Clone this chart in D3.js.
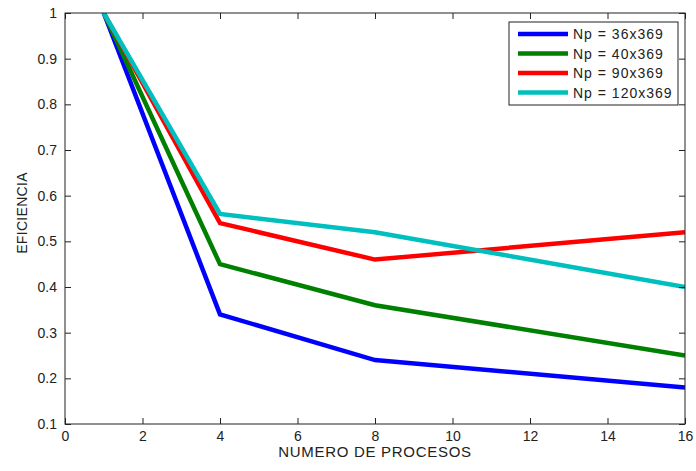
<!DOCTYPE html>
<html>
<head>
<meta charset="utf-8">
<script src="https://cdnjs.cloudflare.com/ajax/libs/d3/7.8.5/d3.min.js"></script>
<style>
  body { margin: 0; background: #fff; }
  svg { display: block; font-family: "Liberation Sans", Arial, sans-serif; }
</style>
</head>
<body>
<script>
// processes and efficiency per problem size
let procesos = [1, 4, 8, 16];
let np36 = [1, 0.34, 0.24, 0.18];
let np40 = [1, 0.45, 0.36, 0.25];
let np90 = [1, 0.54, 0.46, 0.52];
let np120 = [1, 0.56, 0.52, 0.40];
let labels = ['Np = 36x369', 'Np = 40x369', 'Np = 90x369', 'Np = 120x369'];
let colors = ['#0000ff', '#008000', '#ff0000', '#00bfbf'];
let xTicks = [0, 2, 4, 6, 8, 10, 12, 14, 16];
let yTicks = [0.1, 0.2, 0.3, 0.4, 0.5, 0.6, 0.7, 0.8, 0.9, 1];

let width = 696, height = 471;
let margin = { top: 13, right: 11, bottom: 47, left: 65 };

let svg = d3.select('body').append('svg')
    .attr('width', width)
    .attr('height', height);

let xScale = d3.scaleLinear().domain([0, 16]).range([margin.left, width - margin.right]);
let yScale = d3.scaleLinear().domain([0.1, 1]).range([height - margin.bottom, margin.top]);

let series = [np36, np40, np90, np120].map((vals, i) => ({
    label: labels[i],
    color: colors[i],
    points: procesos.map((p, j) => ({ x: p, y: vals[j] }))
}));

svg.append('clipPath').attr('id', 'plot-clip')
    .append('rect')
    .attr('x', margin.left)
    .attr('y', margin.top)
    .attr('width', width - margin.left - margin.right)
    .attr('height', height - margin.top - margin.bottom);

// lines
let line = d3.line().x(d => xScale(d.x)).y(d => yScale(d.y));
svg.append('g')
    .attr('clip-path', 'url(#plot-clip)')
    .selectAll('path')
    .data(series)
    .enter()
    .append('path')
    .attr('d', d => line(d.points))
    .attr('fill', 'none')
    .attr('stroke', d => d.color)
    .attr('stroke-width', 4.5)
    .attr('stroke-linejoin', 'miter');

// axes with inward ticks on all four sides
let tickLen = 6;
let styleAxis = g => {
    g.select('.domain').remove();
    g.selectAll('line').attr('stroke', '#222');
    g.selectAll('text').attr('fill', '#222').attr('font-size', 14);
};
svg.append('g')
    .attr('transform', `translate(0, ${height - margin.bottom})`)
    .call(d3.axisBottom(xScale).tickValues(xTicks).tickFormat(d3.format('d')).tickSizeInner(-tickLen).tickSizeOuter(0).tickPadding(7))
    .call(styleAxis);
svg.append('g')
    .attr('transform', `translate(0, ${margin.top})`)
    .call(d3.axisTop(xScale).tickValues(xTicks).tickFormat('').tickSizeInner(-tickLen).tickSizeOuter(0))
    .call(styleAxis);
svg.append('g')
    .attr('transform', `translate(${margin.left}, 0)`)
    .call(d3.axisLeft(yScale).tickValues(yTicks).tickFormat(d => d3.format('')(+d.toFixed(1))).tickSizeInner(-tickLen).tickSizeOuter(0).tickPadding(8))
    .call(styleAxis);
svg.append('g')
    .attr('transform', `translate(${width - margin.right}, 0)`)
    .call(d3.axisRight(yScale).tickValues(yTicks).tickFormat('').tickSizeInner(-tickLen).tickSizeOuter(0))
    .call(styleAxis);

svg.append('rect')
    .attr('x', margin.left)
    .attr('y', margin.top)
    .attr('width', width - margin.left - margin.right)
    .attr('height', height - margin.top - margin.bottom)
    .attr('fill', 'none')
    .attr('stroke', '#222')
    .attr('stroke-width', 1);

// axis titles
svg.append('text')
    .attr('x', (xScale(0) + xScale(16)) / 2)
    .attr('y', 457)
    .attr('text-anchor', 'middle')
    .attr('font-size', 15)
    .attr('letter-spacing', 0.7)
    .attr('fill', '#222')
    .text('NUMERO DE PROCESOS');
svg.append('text')
    .attr('transform', 'translate(27, 213) rotate(-90)')
    .attr('text-anchor', 'middle')
    .attr('font-size', 14)
    .attr('letter-spacing', 0.3)
    .attr('fill', '#222')
    .text('EFICIENCIA');

// legend
let legend = svg.append('g').attr('transform', 'translate(509, 22)');
legend.append('rect')
    .attr('width', 169)
    .attr('height', 83)
    .attr('fill', '#fff')
    .attr('stroke', '#222');
let rows = legend.selectAll('g.row')
    .data(series)
    .enter()
    .append('g')
    .attr('class', 'row')
    .attr('transform', (d, i) => `translate(0, ${12 + i * 19.5})`);
rows.append('line')
    .attr('x1', 9).attr('x2', 59)
    .attr('stroke', d => d.color)
    .attr('stroke-width', 4.5);
rows.append('text')
    .attr('x', 64)
    .attr('y', 5)
    .attr('font-size', 14)
    .attr('letter-spacing', 1)
    .attr('fill', '#222')
    .text(d => d.label);
</script>
</body>
</html>
